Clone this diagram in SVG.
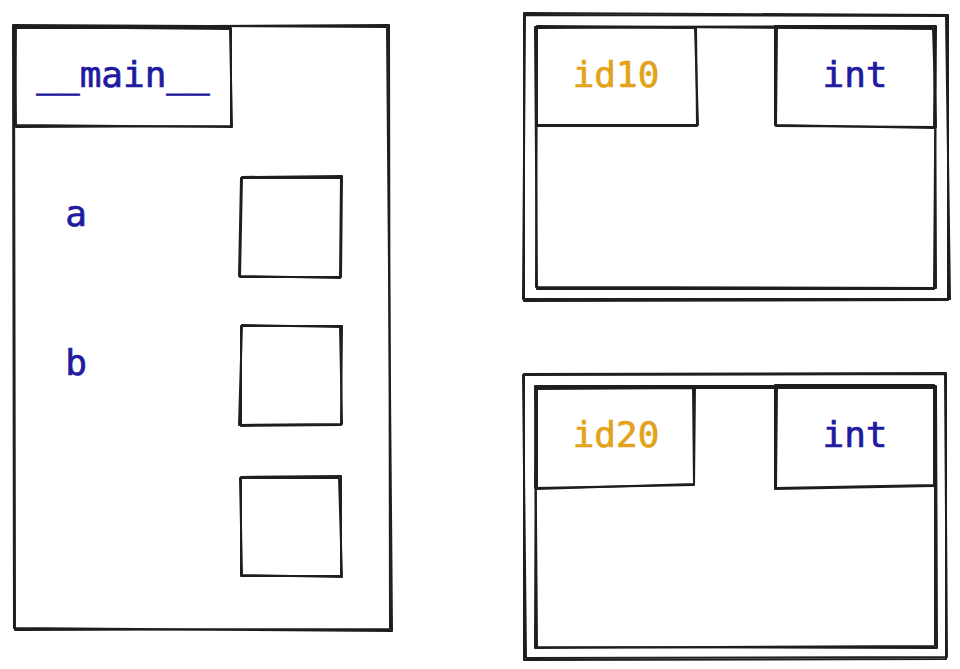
<svg xmlns="http://www.w3.org/2000/svg" width="960" height="669" viewBox="0 0 960 669">
<style>
.s{fill:none;stroke:#1e1e1e;stroke-width:2;stroke-linejoin:round;stroke-linecap:round}
.t{font-family:"DejaVu Sans Mono","Liberation Mono",monospace;font-size:36px;text-anchor:middle;stroke-width:0.7}
.b{fill:#1f1aa0;stroke:#1f1aa0}
.o{fill:#e3a21a;stroke:#e3a21a}
</style>
<rect width="960" height="669" fill="#ffffff"/>
<g id="main-frame">
<path class="s" d="M14 27 L389 25 L390 629 L15 630 Z"/>
<path class="s" d="M13 25 L387 27 L392 631 L14 628 Z"/>
</g>
<g id="main-header">
<path class="s" d="M15 28 L231 28 L231 126 L16 127 Z"/>
<path class="s" d="M16 27 L230 29 L232 127 L15 125 Z"/>
<text class="t b" x="123" y="87">__main__</text>
</g>
<g id="var-a"><text class="t b" x="76" y="226">a</text></g>
<g id="var-b"><text class="t b" x="76" y="375">b</text></g>
<g id="slot-a">
<path class="s" d="M242 177 L342 176 L341 277 L240 277 Z"/>
<path class="s" d="M241 178 L341 178 L340 278 L239 276 Z"/>
</g>
<g id="slot-b">
<path class="s" d="M241 326 L342 326 L341 425 L241 426 Z"/>
<path class="s" d="M242 325 L340 327 L342 424 L239 425 Z"/>
</g>
<g id="slot-c">
<path class="s" d="M241 477 L341 476 L341 576 L241 576 Z"/>
<path class="s" d="M240 478 L339 478 L342 577 L242 575 Z"/>
</g>
<g id="obj-id10">
<path class="s" d="M524 13 L948 15 L948 300 L524 301 Z"/>
<path class="s" d="M525 15 L946 16 L950 299 L523 299 Z"/>
<path class="s" d="M535 27 L936 26 L934 289 L537 289 Z"/>
<path class="s" d="M537 26 L935 29 L936 288 L536 287 Z"/>
<g id="id10-label">
<path class="s" d="M537 28 L696 27 L697 126 L536 126 Z"/>
<path class="s" d="M536 27 L695 28 L698 125 L537 125 Z"/>
<text class="t o" x="616" y="87">id10</text>
</g>
<g id="id10-type">
<path class="s" d="M775 26 L935 26 L934 128 L775 125 Z"/>
<path class="s" d="M777 27 L933 28 L936 127 L776 126 Z"/>
<text class="t b" x="855" y="87">int</text>
</g>
</g>
<g id="obj-id20">
<path class="s" d="M524 374 L946 373 L946 659 L524 660 Z"/>
<path class="s" d="M523 375 L945 374 L947 657 L526 658 Z"/>
<path class="s" d="M535 386 L936 386 L937 648 L537 647 Z"/>
<path class="s" d="M536 388 L935 388 L935 646 L535 648 Z"/>
<g id="id20-label">
<path class="s" d="M536 387 L695 386 L694 485 L535 488 Z"/>
<path class="s" d="M537 389 L693 388 L694 484 L537 489 Z"/>
<text class="t o" x="616" y="447">id20</text>
</g>
<g id="id20-type">
<path class="s" d="M775 385 L934 385 L934 486 L775 489 Z"/>
<path class="s" d="M777 387 L935 388 L935 485 L776 488 Z"/>
<text class="t b" x="855" y="447">int</text>
</g>
</g>
<g id="connectors"></g>
</svg>
